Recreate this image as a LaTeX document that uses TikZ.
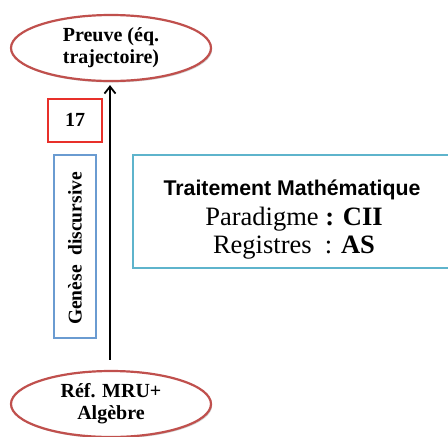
\documentclass[tikz,border=0pt]{standalone}
\usepackage{fontspec}
\setmainfont{Liberation Serif}
\newfontfamily\arialf{Liberation Sans}
\usetikzlibrary{arrows.meta,shapes.geometric,shadows}
\definecolor{ellred}{HTML}{C0504D}
\definecolor{boxred}{HTML}{E8302A}
\definecolor{boxblue}{HTML}{6A9BD1}
\definecolor{boxaqua}{HTML}{5EB4CC}
\tikzset{
  ellnode/.style={ellipse, draw=ellred, line width=2.2pt, fill=white,
    minimum width=200pt, minimum height=66pt, inner sep=0pt, align=center,
    font=\bfseries\fontsize{20}{22}\selectfont,
    drop shadow={shadow xshift=1.2pt, shadow yshift=-1.5pt, opacity=0.18, fill=black}},
  numbox/.style={draw=boxred, line width=2pt, minimum width=54pt, minimum height=43pt,
    inner sep=0pt, font=\bfseries\fontsize{20}{22}\selectfont},
  genbox/.style={draw=boxblue, line width=2pt, minimum width=42pt, minimum height=183pt,
    inner sep=0pt},
  traitbox/.style={draw=boxaqua, line width=2pt, minimum width=320pt, minimum height=113pt,
    inner sep=0pt},
  linetxt/.style={anchor=base, inner sep=0pt},
  mainarrow/.style={line width=2pt, -{Straight Barb[length=7pt,width=11pt,line width=1.8pt]}}
}
\begin{document}
\begin{tikzpicture}[x=1pt,y=-1pt]
\useasboundingbox (0,0) rectangle (448,437);
\node[ellnode] (preuve) at (111,48) {Preuve (éq.\\trajectoire)};
\node[ellnode] (ref) at (111,404) {Réf. MRU+\\Algèbre};
\node[numbox] (n17) at (75,120) {17};
\node[genbox] (gen) at (74.5,246) {};
\node[rotate=90, inner sep=0pt, font=\bfseries\fontsize{19.5}{22}\selectfont] (gentxt) at (75,248.5) {Genèse\ \ discursive};
\node[traitbox] (trait) at (293,211) {};
\node[linetxt, font=\arialf\bfseries\fontsize{21.3}{24}\selectfont] (t1) at (292,195) {Traitement Mathématique};
\node[linetxt, font=\fontsize{26.5}{28}\selectfont] (t2) at (294,225) {Paradigme \textbf{: CII}};
\node[linetxt, font=\fontsize{26.5}{28}\selectfont] (t3) at (294,253) {Registres\ \ : \textbf{AS}};
\draw[mainarrow, shorten <=10pt, shorten >=3pt] (ref.north -| 110,0) -- (preuve.south -| 110,0);
\end{tikzpicture}
\end{document}
